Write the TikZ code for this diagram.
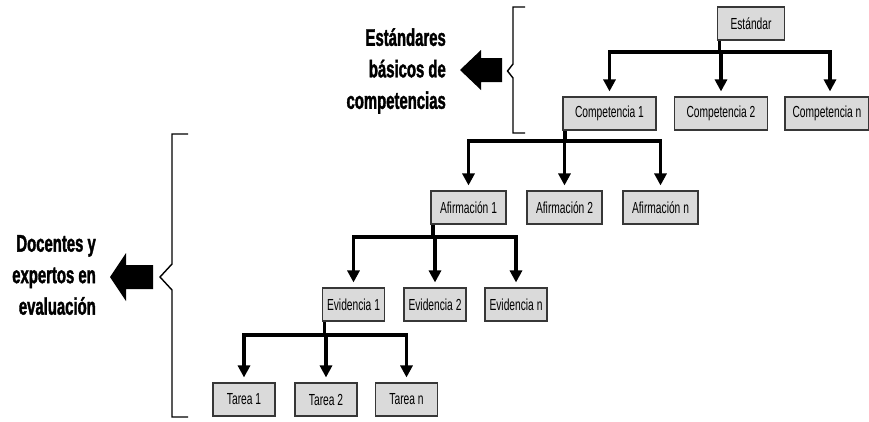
\documentclass[tikz,border=0pt]{standalone}
\usepackage{fontspec}
\setmainfont{Liberation Sans}
\newfontfamily\condf[FakeStretch=0.64]{Liberation Sans}
\newfontface\labf[FakeStretch=0.62,FakeBold=1.5]{Liberation Sans Bold}
\usetikzlibrary{arrows.meta}
\definecolor{boxfill}{RGB}{218,218,218}
\definecolor{boxline}{RGB}{55,55,55}
\begin{document}
\begin{tikzpicture}[x=1pt,y=-1pt,
  box/.style={draw=boxline, line width=1.1pt, fill=boxfill, minimum height=33pt,
    inner sep=0pt, font=\condf\fontsize{16}{18}\selectfont, text=black},
  lvl1/.style={box, minimum width=67pt},
  lvl2/.style={box, minimum width=93pt},
  lvl3/.style={box, minimum width=75pt},
  lvl4/.style={box, minimum width=62pt},
  conn/.style={line width=3.4pt, line join=miter, line cap=butt},
  tip/.style={-{Triangle[length=12pt,width=12pt]}},
  tips/.style={{Triangle[length=12pt,width=12pt]}-{Triangle[length=12pt,width=12pt]}},
  lab/.style={align=right, inner sep=0pt, font=\labf\fontsize{24}{31.5}\selectfont},
  brace/.style={line width=1.4pt, line join=miter}
]
\useasboundingbox (0,0) rectangle (869,421);
\fill[white] (0,0) rectangle (869,421);

% boxes
\node[lvl1] (std) at (751,23.5) {Estándar};
\node[lvl2] (c1) at (609.5,113.5) {Competencia 1};
\node[lvl2] (c2) at (721,113.5) {Competencia 2};
\node[box, minimum width=84pt] (cn) at (827,113.5) {Competencia n};
\node[lvl3] (a1) at (468.5,207.5) {Afirmación 1};
\node[lvl3] (a2) at (564.5,207.5) {Afirmación 2};
\node[lvl3] (an) at (660.5,207.5) {Afirmación n};
\node[lvl4] (e1) at (353.5,304.5) {Evidencia 1};
\node[lvl4] (e2) at (435,304.5) {Evidencia 2};
\node[lvl4] (en) at (516,304.5) {Evidencia n};
\node[lvl4] (t1) at (244,399.5) {Tarea 1};
\node[lvl4] (t2) at (326,399.5) {Tarea 2};
\node[lvl4] (tn) at (406.5,399.5) {Tarea n};

% bar levels
\coordinate (b1) at (0,52);
\coordinate (b2) at (0,141);
\coordinate (b3) at (0,237);
\coordinate (b4) at (0,335);

% Estándar -> Competencias
\draw[conn] ([xshift=2.5pt]std.south west) -- ([xshift=2.5pt]std.south west |- b1);
\draw[conn,tips] ([yshift=5pt]c1.north) |- ([xshift=3pt]cn.north |- b1) -- ([xshift=3pt,yshift=5pt]cn.north);
\draw[conn,tip] (c2.north |- b1) -- ([yshift=5pt]c2.north);

% Competencia 1 -> Afirmaciones
\draw[conn] ([xshift=2.5pt]c1.south west) -- ([xshift=2.5pt]c1.south west |- b2);
\draw[conn,tips] ([yshift=5pt]a1.north) |- (an.north |- b2) -- ([yshift=5pt]an.north);
\draw[conn,tip] (a2.north |- b2) -- ([yshift=5pt]a2.north);

% Afirmación 1 -> Evidencias
\draw[conn] ([xshift=2.5pt]a1.south west) -- ([xshift=2.5pt]a1.south west |- b3);
\draw[conn,tips] ([yshift=5pt]e1.north) |- (en.north |- b3) -- ([yshift=5pt]en.north);
\draw[conn,tip] (e2.north |- b3) -- ([yshift=5pt]e2.north);

% Evidencia 1 -> Tareas
\draw[conn] ([xshift=2.5pt]e1.south west) -- ([xshift=2.5pt]e1.south west |- b4);
\draw[conn,tips] ([yshift=5pt]t1.north) |- (tn.north |- b4) -- ([yshift=5pt]tn.north);
\draw[conn,tip] (t2.north |- b4) -- ([yshift=5pt]t2.north);

% upper bracket, arrow and label
\draw[brace] (525,7) -- (513,7) -- (513,64) -- (507.5,71) -- (513,78) -- (513,133) -- (525,133);
\fill (502,58) -- (481,58) -- (481,50) -- (460,70) -- (481,90) -- (481,82) -- (502,82) -- cycle;
\node[lab, anchor=east] (lab1) at (446,71) {Estándares\\básicos de\\competencias};

% lower bracket, arrow and label
\draw[brace] (188,134) -- (172,134) -- (172,264) -- (160,277) -- (172,290) -- (172,417) -- (188,417);
\fill (153,265) -- (126,265) -- (126,253) -- (110,277) -- (126,301) -- (126,289) -- (153,289) -- cycle;
\node[lab, anchor=east] (lab2) at (96,275) {Docentes y\\expertos en\\evaluación};
\end{tikzpicture}
\end{document}
